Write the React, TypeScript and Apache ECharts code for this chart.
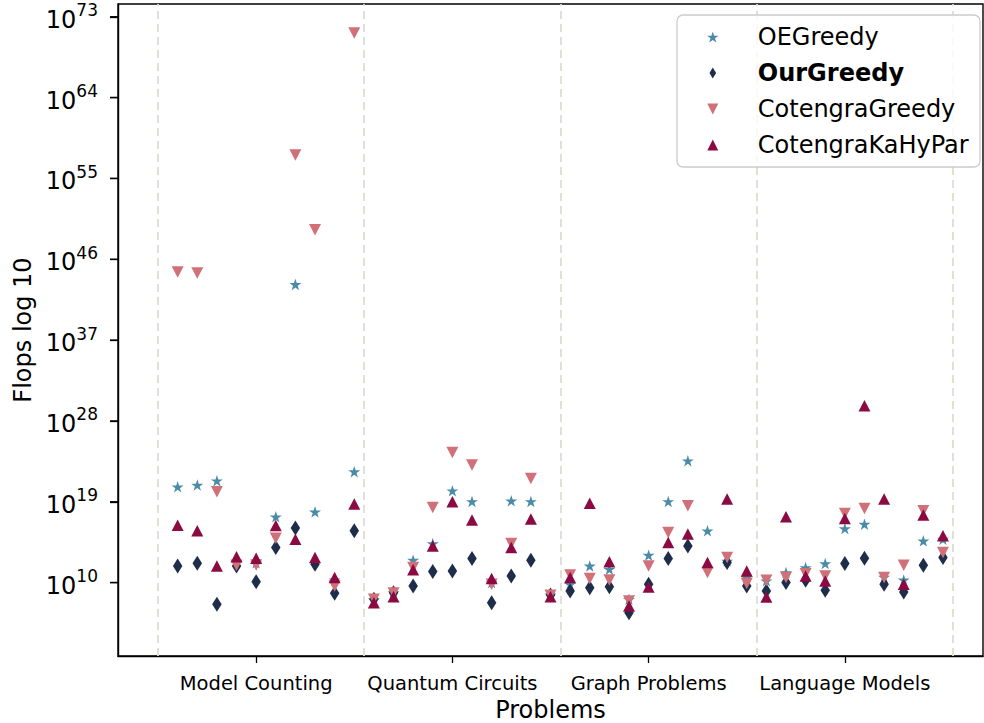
import React, { useEffect, useRef } from 'react';
import * as echarts from 'echarts';

// Category groups along the x axis (each group holds 10 problems, index 0..39)
const groupNames = ['Model Counting', 'Quantum Circuits', 'Graph Problems', 'Language Models'];
const groupTickPositions = [4, 14, 24, 34];
const groupSeparators = [-1, 9.5, 19.5, 29.5, 39.5];
const yTickExponents = [10, 19, 28, 37, 46, 55, 64, 73];

// log10(Flops) per problem
const oeGreedy = [
  20.67, 20.86, 21.34, 12.2, 12.2, 17.33, 43.2, 17.88, 10.3, 22.35,
  8.1, 8.9, 12.5, 14.35, 20.23, 19.03, 10.0, 19.11, 19.03, 8.63,
  9.82, 11.86, 11.49, 8.15, 13.06, 19.03, 23.57, 15.77, 12.4, 10.56,
  10.2, 11.12, 11.67, 12.12, 16.02, 16.51, 10.6, 10.3, 14.65, 14.84,
];
const ourGreedy = [
  11.86, 12.16, 7.59, 11.86, 10.11, 13.9, 16.07, 12.05, 8.82, 15.77,
  8.15, 8.88, 9.63, 11.23, 11.3, 12.68, 7.77, 10.75, 12.5, 8.63,
  9.07, 9.44, 9.55, 6.65, 9.82, 12.68, 14.09, 11.6, 12.23, 9.63,
  9.07, 10.0, 10.27, 9.15, 12.12, 12.72, 9.82, 8.96, 11.94, 12.79,
];
const cotengraGreedy = [
  44.57, 44.46, 20.11, 11.94, 11.97, 14.95, 57.6, 49.3, 9.63, 71.2,
  8.15, 8.85, 11.67, 18.36, 24.5, 23.09, 9.82, 14.35, 21.6, 8.6,
  10.86, 10.45, 10.3, 7.96, 11.86, 15.58, 18.55, 11.12, 12.79, 9.89,
  10.27, 10.56, 11.0, 10.75, 17.7, 18.25, 10.56, 11.94, 18.0, 13.35,
];
const cotengraKaHyPar = [
  16.4, 15.77, 11.86, 12.87, 12.72, 16.36, 14.84, 12.79, 10.56, 18.74,
  7.77, 8.44, 11.42, 14.09, 19.0, 16.96, 10.45, 13.9, 17.07, 8.44,
  10.56, 18.85, 12.31, 7.4, 9.52, 14.46, 15.4, 12.23, 19.3, 11.3,
  8.4, 17.33, 10.75, 10.19, 17.14, 29.7, 19.3, 9.82, 17.52, 15.21,
];

const STAR =
  'path://M100,0L77.55,69.1L4.89,69.1L63.67,111.8L41.22,180.9L100,138.2L158.78,180.9L136.33,111.8L195.11,69.1L122.45,69.1Z';
const THIN_DIAMOND = 'path://M6,0L12,10L6,20L0,10Z';
const TRI_UP = 'path://M10,0L20,20L0,20Z';
const TRI_DOWN = 'path://M0,0L20,0L10,20Z';

const FONT = 'DejaVu Sans';
const X_MIN = -3.04;
const X_MAX = 41.04;
const Y_MIN = 1.83;
const Y_MAX = 74.42;

export default function App() {
  const ref = useRef<HTMLDivElement>(null);

  useEffect(() => {
    if (!ref.current) return;
    const chart = echarts.init(ref.current, null, { renderer: 'svg' });
    const toPts = (arr: number[]) => arr.map((v, i) => [i, v]);

    const seriesDefs = [
      { name: 'OEGreedy', data: oeGreedy, symbol: STAR, size: [12, 11.5], color: '#4a8ba8' },
      { name: 'OurGreedy', data: ourGreedy, symbol: THIN_DIAMOND, size: [9.5, 15], color: '#1d2d4a' },
      { name: 'CotengraGreedy', data: cotengraGreedy, symbol: TRI_DOWN, size: [12, 11.5], color: '#d0717a' },
      { name: 'CotengraKaHyPar', data: cotengraKaHyPar, symbol: TRI_UP, size: [12, 11.5], color: '#8b0a42' },
    ];

    const axisLineStyle = { show: true, onZero: false, lineStyle: { color: '#000', width: 1.4 } };

    const option: any = {
      animation: false,
      backgroundColor: '#ffffff',
      textStyle: { fontFamily: FONT, color: '#000' },
      grid: {
        left: 118,
        top: 4,
        right: 1,
        bottom: 67,
        show: true,
        borderColor: '#000',
        borderWidth: 1.4,
        backgroundColor: 'transparent',
        containLabel: false,
        outerBoundsMode: 'none',
      },
      xAxis: {
        type: 'value',
        min: X_MIN,
        max: X_MAX,
        name: 'Problems',
        nameLocation: 'middle',
        nameGap: 40,
        nameTextStyle: { fontFamily: FONT, fontSize: 24, lineHeight: 24, color: '#000' },
        axisLine: axisLineStyle,
        splitLine: { show: false },
        axisTick: {
          show: true,
          inside: false,
          customValues: groupTickPositions,
          length: 7,
          lineStyle: { color: '#000', width: 1.3 },
        },
        axisLabel: {
          customValues: groupTickPositions,
          formatter: (v: number) => groupNames[groupTickPositions.indexOf(Math.round(v))] ?? '',
          fontFamily: FONT,
          fontSize: 19.5,
          color: '#000',
          margin: 17,
        },
      },
      yAxis: {
        type: 'value',
        min: Y_MIN,
        max: Y_MAX,
        name: 'Flops log 10',
        nameLocation: 'middle',
        nameGap: 74,
        nameTextStyle: { fontFamily: FONT, fontSize: 24, color: '#000' },
        axisLine: axisLineStyle,
        splitLine: { show: false },
        axisTick: {
          show: true,
          inside: false,
          customValues: yTickExponents,
          length: 8,
          lineStyle: { color: '#000', width: 1.3 },
        },
        axisLabel: {
          customValues: yTickExponents,
          margin: 0,
          // "10^n" label followed by a gap and the outward tick mark
          formatter: (v: number) => `{b|10}{s|${Math.round(v)}}{g|}{t|}`,
          rich: {
            b: { fontFamily: FONT, fontSize: 24, color: '#000', lineHeight: 30, verticalAlign: 'bottom' },
            s: { fontFamily: FONT, fontSize: 17, color: '#000', lineHeight: 20, verticalAlign: 'top' },
            g: { width: 12, height: 2 },
            t: { width: 8, height: 1.4, backgroundColor: '#000', verticalAlign: 'middle' },
          },
        },
      },
      legend: {
        orient: 'vertical',
        left: 707,
        top: 23,
        padding: 0,
        z: 20,
        itemWidth: 80,
        itemHeight: 11,
        itemGap: 8,
        textStyle: { fontFamily: FONT, fontSize: 24, color: '#000', lineHeight: 28 },
        data: [
          { name: 'OEGreedy' },
          { name: 'OurGreedy', textStyle: { fontWeight: 'bold' } },
          { name: 'CotengraGreedy' },
          { name: 'CotengraKaHyPar' },
        ],
      },
      graphic: [
        {
          id: 'legendBox',
          type: 'rect',
          z: 10,
          silent: true,
          shape: { x: 677, y: 15, width: 303, height: 152, r: 6 },
          style: { fill: 'rgba(255,255,255,0.8)', stroke: '#cccccc', lineWidth: 1.3 },
        },
      ],
      series: [
        {
          name: '__separators',
          type: 'scatter',
          data: [],
          z: 1,
          silent: true,
          markLine: {
            silent: true,
            symbol: 'none',
            label: { show: false },
            lineStyle: { color: '#dedcd2', width: 1.8, type: [8, 5] },
            data: groupSeparators.map((x) => ({ xAxis: x })),
          },
        },
        ...seriesDefs.map((s, k) => ({
          name: s.name,
          type: 'scatter',
          data: toPts(s.data),
          symbol: s.symbol,
          symbolSize: s.size,
          z: 2 + k,
          itemStyle: { color: s.color, opacity: 1 },
          emphasis: { disabled: true },
        })),
      ],
    };

    chart.setOption(option);
    return () => chart.dispose();
  }, []);

  return (
    <div
      ref={ref}
      style={{ position: 'fixed', left: 0, top: 0, width: 984, height: 723, background: '#fff' }}
    />
  );
}
